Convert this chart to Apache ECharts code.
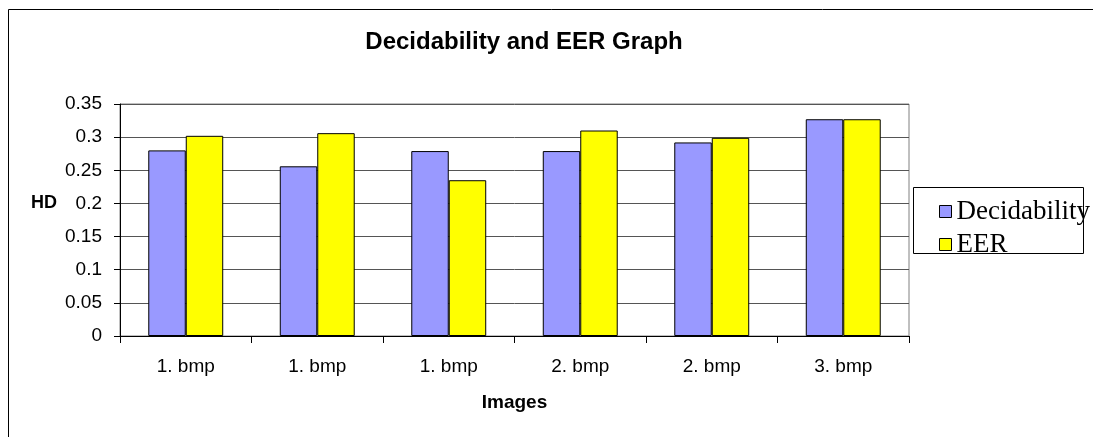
<!DOCTYPE html>
<html>
<head>
<meta charset="utf-8">
<script src="https://cdn.jsdelivr.net/npm/echarts@6/dist/echarts.min.js"></script>
<style>
  html, body { margin: 0; padding: 0; background: #fff; }
  #chart { width: 1093px; height: 437px; }
</style>
</head>
<body>
<div id="chart"></div>
<script>
// data
const categories = ['1. bmp', '1. bmp', '1. bmp', '2. bmp', '2. bmp', '3. bmp']
const decidability = [0.28, 0.256, 0.279, 0.279, 0.292, 0.327]
const eer = [0.302, 0.306, 0.235, 0.31, 0.299, 0.327]

const chart = echarts.init(document.getElementById('chart'))

const sans = 'Liberation Sans, Arial'

const barStyle = (color) => ({
  color: color,
  borderColor: '#000',
  borderWidth: 1
})

chart.setOption({
  animation: false,
  backgroundColor: '#fff',
  title: {
    text: 'Decidability and EER Graph',
    left: 519,
    textAlign: 'center',
    top: 25,
    textStyle: {
      fontFamily: sans,
      fontSize: 24,
      fontWeight: 'bold',
      color: '#000'
    }
  },
  legend: {
    orient: 'vertical',
    left: 934,
    top: 193,
    itemWidth: 12,
    itemHeight: 12,
    itemGap: 6,
    icon: 'rect',
    itemStyle: { borderColor: '#000', borderWidth: 1 },
    textStyle: {
      fontFamily: 'Liberation Serif, Times New Roman',
      fontSize: 27,
      lineHeight: 27,
      color: '#000'
    },
    data: ['Decidability', 'EER']
  },
  grid: {
    left: 120,
    right: 184,
    top: 104,
    bottom: 101,
    show: true,
    borderColor: '#808080',
    borderWidth: 1
  },
  xAxis: {
    type: 'category',
    data: categories,
    name: 'Images',
    nameLocation: 'middle',
    nameGap: 57,
    nameTextStyle: {
      fontFamily: sans,
      fontSize: 19,
      fontWeight: 'bold',
      color: '#000'
    },
    axisLine: { lineStyle: { color: '#000', width: 1 } },
    axisTick: { show: true, length: 7, lineStyle: { color: '#000' } },
    axisLabel: {
      margin: 21,
      fontFamily: sans,
      fontSize: 19,
      color: '#000'
    }
  },
  yAxis: {
    type: 'value',
    min: 0,
    max: 0.35,
    interval: 0.05,
    axisLine: { show: true, lineStyle: { color: '#000', width: 1 } },
    axisTick: { show: true, length: 6, lineStyle: { color: '#000' } },
    axisLabel: {
      margin: 18,
      fontFamily: sans,
      fontSize: 19,
      color: '#000'
    },
    splitLine: { lineStyle: { color: '#555', width: 1 } }
  },
  series: [
    {
      name: 'Decidability',
      type: 'bar',
      data: decidability,
      barGap: '0%',
      barCategoryGap: '43%',
      itemStyle: barStyle('#9999ff')
    },
    {
      name: 'EER',
      type: 'bar',
      data: eer,
      itemStyle: barStyle('#ffff00')
    }
  ],
  graphic: [
    {
      type: 'rect',
      shape: { x: 8.5, y: 9.5, width: 1200, height: 600 },
      style: { fill: 'none', stroke: '#000', lineWidth: 1 },
      silent: true
    },
    {
      type: 'rect',
      shape: { x: 913.5, y: 187.5, width: 170, height: 66 },
      style: { fill: 'none', stroke: '#000', lineWidth: 1 },
      silent: true,
      z: -1
    },
    // y axis title sits above the axis middle in the original
    {
      type: 'text',
      x: 44,
      y: 203,
      style: {
        text: 'HD',
        fontFamily: sans,
        fontSize: 18,
        fontWeight: 'bold',
        fill: '#000',
        align: 'center',
        verticalAlign: 'middle'
      },
      silent: true
    }
  ]
})
</script>
</body>
</html>
